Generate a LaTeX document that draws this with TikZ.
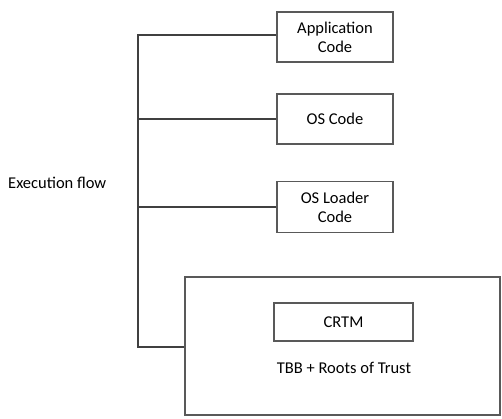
\documentclass[tikz,border=0pt]{standalone}
\usepackage{fontspec}
\setmainfont{Carlito}
\begin{document}
\begin{tikzpicture}[x=1pt,y=-1pt,
  box/.style={draw=black!65,line width=1.3pt,align=center,inner sep=0pt,font=\fontsize{16.5}{19}\selectfont},
  conn/.style={draw=black!75,line width=1.6pt},
  lbl/.style={font=\fontsize{16.5}{19}\selectfont,inner sep=0pt}]
\useasboundingbox (0,0) rectangle (502,419);
\node[box,minimum width=116pt,minimum height=50pt] (app) at (335,37) {Application\\Code};
\node[box,minimum width=116pt,minimum height=50pt] (os) at (335,119) {OS Code};
\node[box,minimum width=116pt,minimum height=51pt] (ldr) at (335,207) {OS Loader\\Code};
\node[box,minimum width=315pt,minimum height=138pt] (tbb) at (342.5,346) {};
\node[box,minimum width=139pt,minimum height=38pt] (crtm) at (343.5,322) {CRTM};
\node[lbl] (tbbt) at (344,368) {TBB + Roots of Trust};
\node[lbl,anchor=west] (exe) at (8,183) {Execution flow};
\coordinate (top) at (138,35);
\coordinate (bot) at (138,347);
\draw[conn] (app.west |- top) -- (top) -- (bot) -- (bot -| tbb.west);
\draw[conn] (os.west) -- (os.west -| top);
\draw[conn] (ldr.west) -- (ldr.west -| top);
\end{tikzpicture}
\end{document}
